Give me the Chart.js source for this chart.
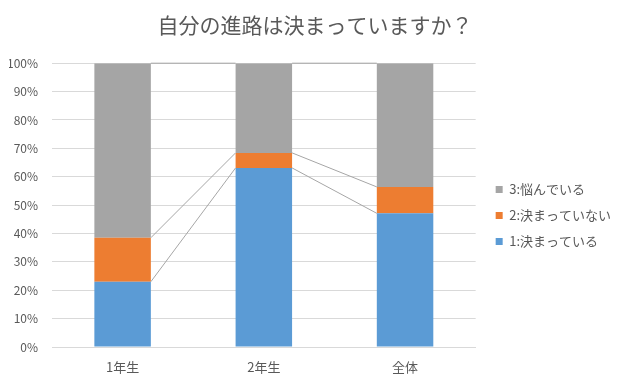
<!DOCTYPE html>
<html>
<head>
<meta charset="utf-8">
<script src="https://cdn.jsdelivr.net/npm/chart.js@4.4.1/dist/chart.umd.min.js"></script>
<style>
html,body{margin:0;padding:0;background:#fff;}
#wrap{width:626px;height:387px;position:relative;}
</style>
</head>
<body>
<div id="wrap"><canvas id="c" width="626" height="387"></canvas></div>
<script>
const titleText = '自分の進路は決まっていますか？';
const categories = ['1年生', '2年生', '全体'];
const seriesNames = ['1:決まっている', '2:決まっていない', '3:悩んでいる'];
const decided = [23.0, 63.1, 47.1];
const undecided = [15.5, 5.3, 9.3];
const worried = [61.5, 31.6, 43.6];
const yTicks = [0, 10, 20, 30, 40, 50, 60, 70, 80, 90, 100];

const FONT = '"Noto Sans CJK JP", "Noto Sans", sans-serif';
const TXT = '#595959';

const seriesLines = {
  id: 'seriesLines',
  afterDatasetsDraw(chart) {
    const ctx = chart.ctx;
    ctx.save();
    ctx.strokeStyle = '#a6a6a6';
    ctx.lineWidth = 1;
    chart.data.datasets.forEach((ds, d) => {
      const meta = chart.getDatasetMeta(d);
      for (let i = 0; i < meta.data.length - 1; i++) {
        const a = meta.data[i], b = meta.data[i + 1];
        ctx.beginPath();
        ctx.moveTo(a.x + a.width / 2, a.y);
        ctx.lineTo(b.x - b.width / 2, b.y);
        ctx.stroke();
      }
    });
    ctx.restore();
  }
};

new Chart(document.getElementById('c'), {
  type: 'bar',
  data: {
    labels: categories,
    datasets: [
      { label: seriesNames[0], data: decided, backgroundColor: '#5b9bd5' },
      { label: seriesNames[1], data: undecided, backgroundColor: '#ed7d31' },
      { label: seriesNames[2], data: worried, backgroundColor: '#a5a5a5' }
    ]
  },
  plugins: [seriesLines],
  options: {
    responsive: false,
    animation: false,
    devicePixelRatio: 1,
    layout: { padding: { left: 9, right: 5, top: 0, bottom: 0 } },
    datasets: { bar: { barPercentage: 0.4, categoryPercentage: 1.0 } },
    plugins: {
      tooltip: { enabled: false },
      title: {
        display: true,
        text: titleText,
        color: TXT,
        font: { family: FONT, size: 21, weight: 'normal' },
        padding: { top: 12, bottom: 26 }
      },
      legend: {
        position: 'right',
        reverse: true,
        maxWidth: 300,
        title: {
          display: true,
          text: ' ',
          font: { size: 1 },
          padding: { top: 21, bottom: 21.8 }
        },
        labels: {
          boxWidth: 7,
          boxHeight: 7,
          padding: 13,
          color: TXT,
          font: { family: FONT, size: 13 }
        }
      }
    },
    scales: {
      x: {
        stacked: true,
        grid: { display: false, drawTicks: false },
        border: { display: true, color: '#d9d9d9' },
        ticks: { color: TXT, font: { family: FONT, size: 13 }, padding: 12 },
        afterFit(s) { s.height = 40; }
      },
      y: {
        stacked: true,
        min: 0,
        max: 100,
        afterBuildTicks(s) { s.ticks = yTicks.map(v => ({ value: v })); },
        grid: { color: '#d9d9d9', drawTicks: false },
        border: { display: false },
        ticks: {
          color: TXT,
          font: { family: FONT, size: 12 },
          padding: 14,
          callback: v => v + '%'
        },
        afterFit(s) { s.width = 43; }
      },
      gap: {
        type: 'linear',
        position: 'right',
        display: true,
        grid: { display: false, drawTicks: false },
        border: { display: false },
        ticks: { display: false },
        afterFit(s) { s.width = 7; }
      }
    }
  }
});
</script>
</body>
</html>
